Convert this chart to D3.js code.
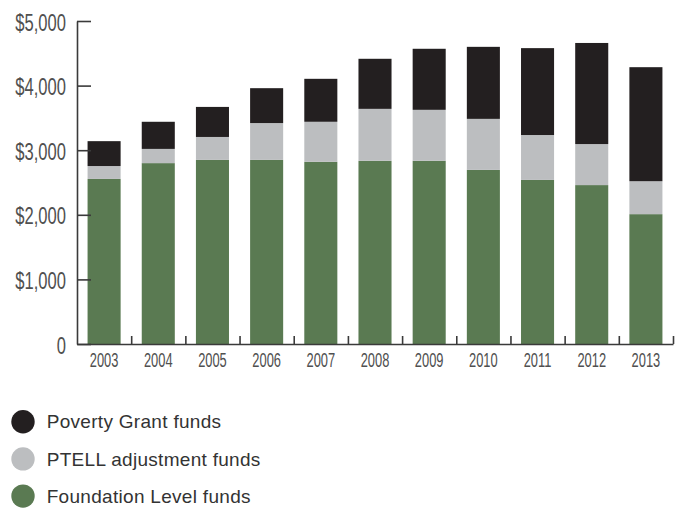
<!DOCTYPE html>
<html>
<head>
<meta charset="utf-8">
<script src="https://cdn.jsdelivr.net/npm/d3@7"></script>
<style>
  html, body { margin: 0; padding: 0; background: #fff; }
  svg { display: block; }
  .tick-label { font-family: "Liberation Sans", "Helvetica", sans-serif; fill: #505050; }
  .legend-label { font-family: "Liberation Sans", "Helvetica", sans-serif; fill: #333; }
</style>
</head>
<body>
<svg id="chart" width="683" height="508"></svg>
<script>
// School years shown along the bottom axis
const years = ["2003","2004","2005","2006","2007","2008","2009","2010","2011","2012","2013"];

// Per-pupil funding components (dollars), stacked bottom to top
const foundationLevel = [2555, 2800, 2850, 2850, 2820, 2835, 2835, 2695, 2540, 2460, 2010];
const ptellAdjustment = [200, 220, 355, 570, 620, 805, 790, 790, 695, 635, 510];
const povertyGrant    = [385, 420, 465, 540, 665, 775, 945, 1115, 1345, 1565, 1765];

// Series names, in stacking order, and legend order (top to bottom)
const seriesKeys   = ["foundation", "ptell", "poverty"];
const seriesLabels = { poverty: "Poverty Grant funds", ptell: "PTELL adjustment funds", foundation: "Foundation Level funds" };
const seriesColors = { poverty: "#231f20", ptell: "#bcbec0", foundation: "#5a7a52" };
const legendOrder  = ["poverty", "ptell", "foundation"];

// Y-axis tick values
const yTicks = [0, 1000, 2000, 3000, 4000, 5000];

const rows = years.map((yr, i) => ({
  year: yr,
  foundation: foundationLevel[i],
  ptell: ptellAdjustment[i],
  poverty: povertyGrant[i]
}));

const svg = d3.select("#chart");
const plotLeft = 77, plotRight = 673, plotTop = 21, plotBottom = 344;

const x = d3.scaleBand()
  .domain(years)
  .range([plotLeft, plotRight])
  .paddingInner(0.39)
  .paddingOuter(0.195);

const y = d3.scaleLinear().domain([0, 5000]).range([plotBottom, plotTop]);

const stacked = d3.stack().keys(seriesKeys)(rows);

// Stacked bars
svg.append("g")
  .selectAll("g")
  .data(stacked)
  .join("g")
  .attr("fill", d => seriesColors[d.key])
  .selectAll("rect")
  .data(d => d)
  .join("rect")
  .attr("x", d => x(d.data.year))
  .attr("width", x.bandwidth())
  .attr("y", d => y(d[1]))
  .attr("height", d => y(d[0]) - y(d[1]));

const axisColor = "#3a3a3a";

// Y axis: ticks point inward into the plot
const yAxis = svg.append("g")
  .attr("transform", `translate(${plotLeft},0)`)
  .call(d3.axisLeft(y)
    .tickValues(yTicks)
    .tickSizeInner(-14)
    .tickSizeOuter(0)
    .tickPadding(0)
    .tickFormat(v => v === 0 ? "0" : "$" + d3.format(",")(v)));
yAxis.select(".domain").attr("stroke", axisColor).attr("stroke-width", 1.6);
yAxis.selectAll(".tick line").attr("stroke", axisColor).attr("stroke-width", 1.6);
yAxis.selectAll(".tick text")
  .attr("class", "tick-label")
  .attr("x", 0)
  .attr("dy", "0.34em")
  .attr("transform", "translate(-11,1) scale(0.69,1)")
  .style("font-size", "24px")
  .attr("fill", null);

// X axis: small upward ticks at the category boundaries
const boundary = d3.scaleLinear().domain([0, years.length]).range([plotLeft, plotRight]);
const xTicks = svg.append("g")
  .attr("transform", `translate(0,${plotBottom})`)
  .call(d3.axisBottom(boundary)
    .tickValues(d3.range(1, years.length + 1))
    .tickSizeInner(-8)
    .tickSizeOuter(0)
    .tickFormat(""));
xTicks.select(".domain").attr("stroke", axisColor).attr("stroke-width", 1.6);
xTicks.selectAll(".tick line").attr("stroke", axisColor).attr("stroke-width", 1.6);

// Year labels centred under each bar
const xLabels = svg.append("g")
  .attr("transform", `translate(0,${plotBottom})`)
  .call(d3.axisBottom(x).tickSize(0).tickPadding(0));
xLabels.select(".domain").remove();
xLabels.selectAll(".tick text")
  .attr("class", "tick-label")
  .attr("y", 0)
  .attr("dy", 0)
  .attr("transform", "translate(0,23.3) scale(0.66,1)")
  .style("font-size", "19.5px")
  .attr("fill", null);

// Legend
const legend = svg.append("g")
  .selectAll("g")
  .data(legendOrder)
  .join("g")
  .attr("transform", (d, i) => `translate(23,${421.7 + i * 37.2})`);
legend.append("circle")
  .attr("r", 11.7)
  .attr("fill", d => seriesColors[d]);
legend.append("text")
  .attr("class", "legend-label")
  .attr("x", 23.7)
  .attr("y", 6.6)
  .style("font-size", "19px")
  .style("letter-spacing", "0.3px")
  .text(d => seriesLabels[d]);
</script>
</body>
</html>
